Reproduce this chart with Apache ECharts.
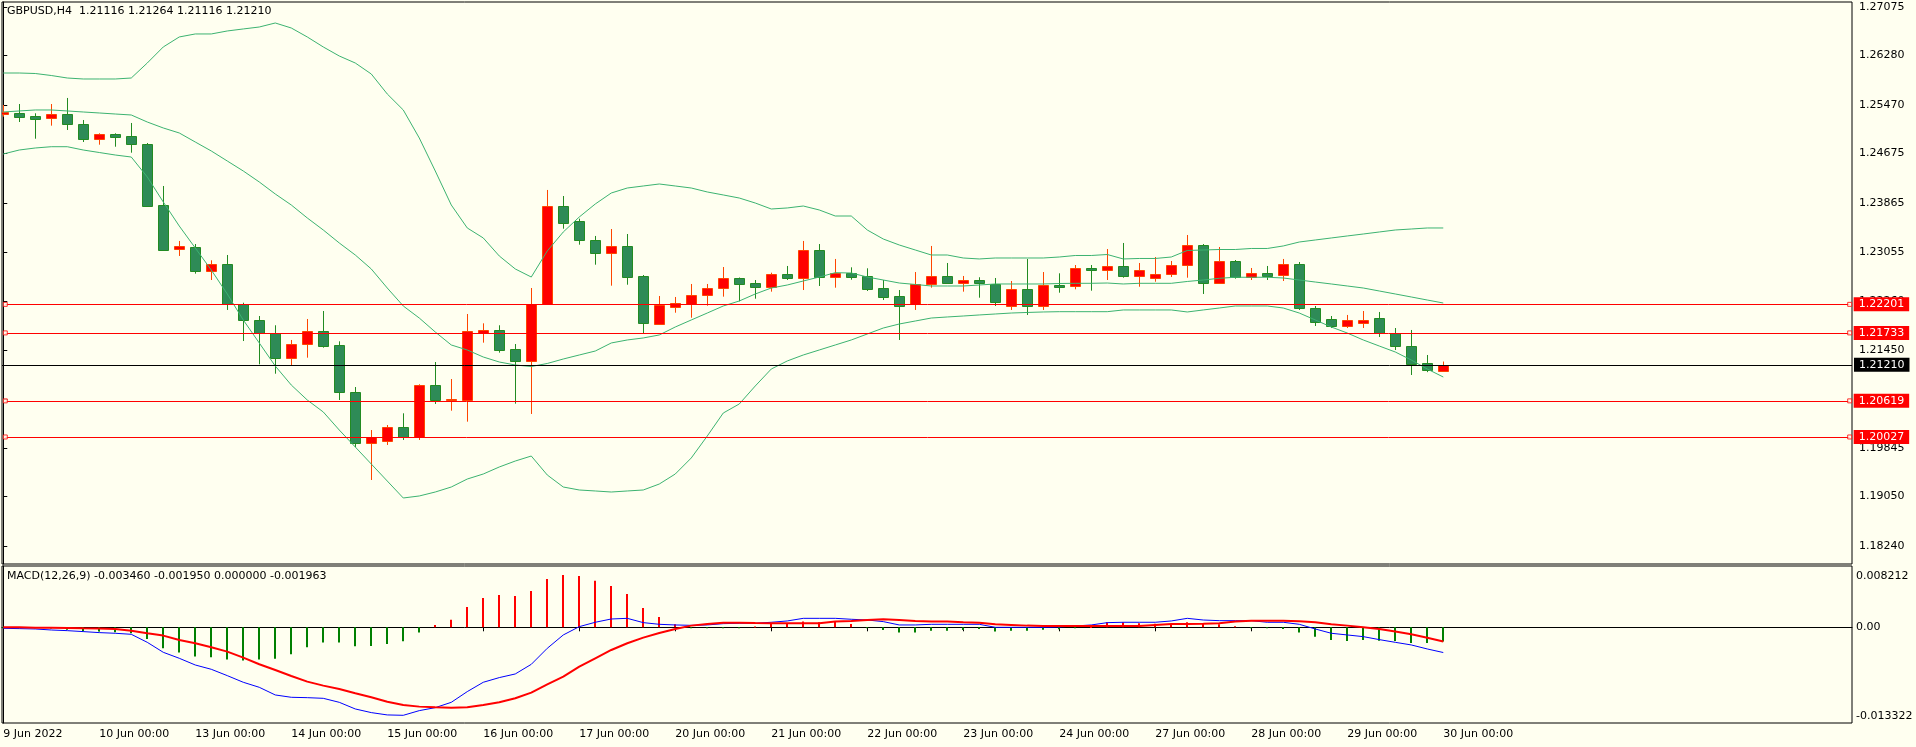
<!DOCTYPE html>
<html><head><meta charset="utf-8">
<script src="https://cdn.jsdelivr.net/npm/echarts/dist/echarts.min.js"></script>
<style>html,body{margin:0;padding:0;background:#fffff0;}#c{width:1916px;height:747px;}</style>
</head><body><div id="c"></div>
<script>
const dateLabels = ['9 Jun 2022','10 Jun 00:00','13 Jun 00:00','14 Jun 00:00','15 Jun 00:00','16 Jun 00:00','17 Jun 00:00','20 Jun 00:00','21 Jun 00:00','22 Jun 00:00','23 Jun 00:00','24 Jun 00:00','27 Jun 00:00','28 Jun 00:00','29 Jun 00:00','30 Jun 00:00'];
const priceTicks = [1.27075,1.26280,1.25470,1.24675,1.23865,1.23055,1.22260,1.21450,1.20640,1.19845,1.19050,1.18240];
const macdTickText = ['0.008212','0.00','-0.013322'];
const macdTickPos = [0.007078,0,-0.012125];
const titleText = 'GBPUSD,H4  1.21116 1.21264 1.21116 1.21210';
const macdTitle = 'MACD(12,26,9) -0.003460 -0.001950 0.000000 -0.001963';
const levelLines = [1.22201,1.21733,1.20619,1.20027];
const currentPrice = 1.21210;

const candleOpen = [1.25321,1.25333,1.25289,1.25251,1.25316,1.25157,1.24916,1.24994,1.24956,1.24825,
1.23825,1.23104,1.23136,1.22753,1.22858,1.22202,1.21945,1.21727,1.21317,1.21546,
1.21759,1.21530,1.20759,1.19928,1.19961,1.20186,1.20022,1.20874,1.20628,1.20638,
1.21727,1.21776,1.21464,1.21277,1.22212,1.23808,1.23562,1.23251,1.23048,1.23153,
1.22661,1.21874,1.22153,1.22212,1.22349,1.22464,1.22628,1.22546,1.22486,1.22694,
1.22638,1.23087,1.22654,1.22720,1.22666,1.22464,1.22333,1.22207,1.22530,1.22661,
1.22556,1.22595,1.22540,1.22174,1.22448,1.22174,1.22518,1.22497,1.22797,1.22759,
1.22825,1.22671,1.22628,1.22694,1.22841,1.23169,1.22546,1.22907,1.22649,1.22715,
1.22682,1.22863,1.22141,1.21961,1.21846,1.21895,1.21977,1.21731,1.21518,1.21240,1.21116];
const candleClose = [1.25346,1.25277,1.25244,1.25316,1.25153,1.24916,1.24989,1.24949,1.24825,1.23818,
1.23097,1.23153,1.22753,1.22858,1.22207,1.21940,1.21727,1.21317,1.21546,1.21759,
1.21523,1.20769,1.19928,1.20027,1.20186,1.20022,1.20874,1.20633,1.20650,1.21759,
1.21776,1.21458,1.21277,1.22202,1.23808,1.23530,1.23251,1.23048,1.23153,1.22654,
1.21891,1.22190,1.22218,1.22349,1.22464,1.22628,1.22540,1.22481,1.22694,1.22638,
1.23087,1.22654,1.22710,1.22654,1.22458,1.22327,1.22174,1.22530,1.22661,1.22556,
1.22595,1.22556,1.22240,1.22448,1.22174,1.22518,1.22490,1.22792,1.22759,1.22825,
1.22671,1.22759,1.22694,1.22841,1.23169,1.22546,1.22907,1.22645,1.22710,1.22671,
1.22863,1.22141,1.21912,1.21846,1.21945,1.21945,1.21731,1.21518,1.21223,1.21130,1.21210];
const candleHigh = [1.25469,1.25485,1.25333,1.25485,1.25584,1.25223,1.25005,1.25005,1.25174,1.24846,
1.24141,1.23240,1.23190,1.22923,1.23010,1.22228,1.22010,1.21858,1.21617,1.21961,
1.22092,1.21595,1.20846,1.20141,1.20223,1.20415,1.20891,1.21256,1.20977,1.22043,
1.21890,1.21858,1.21551,1.22469,1.24076,1.23977,1.23605,1.23322,1.23436,1.23354,
1.22682,1.22338,1.22322,1.22535,1.22535,1.22813,1.22641,1.22600,1.22720,1.22830,
1.23240,1.23190,1.22945,1.22808,1.22792,1.22600,1.22436,1.22731,1.23158,1.22879,
1.22666,1.22645,1.22633,1.22584,1.22945,1.22731,1.22710,1.22846,1.22846,1.23108,
1.23207,1.22879,1.22977,1.22912,1.23338,1.23190,1.23141,1.22928,1.22797,1.22830,
1.22945,1.22895,1.22174,1.22010,1.22027,1.22092,1.22076,1.21813,1.21781,1.21371,1.21264];
const candleLow = [1.25277,1.25190,1.24916,1.25130,1.25059,1.24862,1.24818,1.24785,1.24687,1.23805,
1.23081,1.22994,1.22704,1.22600,1.22109,1.21600,1.21218,1.21064,1.21195,1.21327,
1.21491,1.20633,1.19863,1.19322,1.19896,1.19978,1.19978,1.20568,1.20458,1.20278,
1.21573,1.21409,1.20573,1.20404,1.22199,1.23441,1.23179,1.22851,1.22507,1.22523,
1.21727,1.21863,1.22064,1.21982,1.22179,1.22327,1.22251,1.22294,1.22409,1.22600,
1.22436,1.22502,1.22474,1.22605,1.22420,1.22272,1.21617,1.22109,1.22474,1.22543,
1.22409,1.22310,1.22174,1.22109,1.22027,1.22109,1.22392,1.22448,1.22425,1.22600,
1.22638,1.22490,1.22572,1.22649,1.22638,1.22371,1.22535,1.22622,1.22600,1.22600,
1.22584,1.22109,1.21846,1.21813,1.21813,1.21813,1.21666,1.21453,1.21043,1.21090,1.21116];

const bbUpper = [1.25993,1.25993,1.25985,1.25952,1.25911,1.25895,1.25895,1.25895,1.25911,1.26157,
1.26420,1.26584,1.26633,1.26633,1.26682,1.26715,1.26747,1.26813,1.26731,1.26584,
1.26420,1.26272,1.26157,1.25977,1.25649,1.25387,1.24928,1.24387,1.23830,1.23453,
1.23289,1.22994,1.22781,1.22649,1.23076,1.23387,1.23633,1.23846,1.24026,1.24108,
1.24141,1.24174,1.24141,1.24108,1.24043,1.23994,1.23944,1.23862,1.23764,1.23781,
1.23813,1.23748,1.23649,1.23649,1.23420,1.23272,1.23174,1.23092,1.23010,1.23010,
1.22961,1.22945,1.22961,1.22961,1.22961,1.22961,1.22977,1.23002,1.23002,1.23018,
1.22945,1.22953,1.22953,1.22977,1.23084,1.23092,1.23100,1.23100,1.23117,1.23117,
1.23158,1.23223,1.23256,1.23289,1.23322,1.23354,1.23387,1.23420,1.23436,1.23453,1.23453];
const bbMiddle = [1.25354,1.25371,1.25387,1.25387,1.25371,1.25354,1.25338,1.25321,1.25305,1.25190,
1.25092,1.25010,1.24862,1.24715,1.24551,1.24387,1.24207,1.24010,1.23830,1.23617,
1.23420,1.23207,1.23010,1.22781,1.22469,1.22174,1.21977,1.21748,1.21535,1.21453,
1.21338,1.21256,1.21207,1.21182,1.21232,1.21305,1.21371,1.21436,1.21568,1.21617,
1.21650,1.21699,1.21830,1.21945,1.22059,1.22174,1.22256,1.22371,1.22469,1.22518,
1.22584,1.22649,1.22720,1.22715,1.22649,1.22600,1.22551,1.22527,1.22502,1.22502,
1.22502,1.22518,1.22535,1.22535,1.22535,1.22535,1.22543,1.22546,1.22546,1.22551,
1.22535,1.22546,1.22546,1.22546,1.22576,1.22600,1.22628,1.22645,1.22645,1.22645,
1.22633,1.22600,1.22567,1.22535,1.22502,1.22469,1.22420,1.22371,1.22322,1.22272,1.22223];
const bbLower = [1.24666,1.24731,1.24764,1.24785,1.24785,1.24731,1.24690,1.24649,1.24616,1.24289,
1.23879,1.23485,1.23125,1.22764,1.22371,1.21945,1.21568,1.21190,1.20879,1.20633,
1.20437,1.20141,1.19863,1.19584,1.19305,1.19027,1.19060,1.19125,1.19207,1.19338,
1.19420,1.19535,1.19633,1.19715,1.19404,1.19207,1.19158,1.19142,1.19125,1.19142,
1.19158,1.19256,1.19420,1.19683,1.20043,1.20420,1.20568,1.20863,1.21141,1.21273,
1.21371,1.21453,1.21535,1.21617,1.21715,1.21813,1.21879,1.21928,1.21977,1.21994,
1.22010,1.22027,1.22043,1.22059,1.22068,1.22076,1.22081,1.22081,1.22081,1.22081,
1.22109,1.22109,1.22109,1.22109,1.22076,1.22109,1.22141,1.22174,1.22174,1.22174,
1.22141,1.22059,1.21945,1.21830,1.21731,1.21617,1.21518,1.21420,1.21289,1.21141,1.21010];

const macdHist = [-0.00009,-0.00009,-0.00014,-0.00018,-0.00032,-0.00059,-0.00059,-0.00069,-0.00082,-0.00160,
-0.00288,-0.00347,-0.00402,-0.00411,-0.00443,-0.00457,-0.00443,-0.00430,-0.00370,-0.00274,
-0.00210,-0.00210,-0.00260,-0.00256,-0.00229,-0.00192,-0.00073,0.00032,0.00105,0.00279,
0.00402,0.00443,0.00430,0.00498,0.00663,0.00718,0.00704,0.00640,0.00567,0.00457,
0.00265,0.00142,0.00041,-0.00014,-0.00014,-0.00010,-0.00010,0.00010,0.00046,0.00046,
0.00078,0.00069,0.00078,0.00046,-0.00014,-0.00037,-0.00073,-0.00073,-0.00046,-0.00046,
-0.00037,-0.00023,-0.00059,-0.00046,-0.00046,-0.00032,-0.00027,-0.00005,0.00005,0.00069,
0.00069,0.00055,0.00050,0.00041,0.00069,0.00055,0.00041,0.00014,-0.00005,-0.00014,
-0.00023,-0.00073,-0.00128,-0.00174,-0.00187,-0.00174,-0.00183,-0.00187,-0.00215,-0.00215,-0.001963];
const macdMain = [-0.00014,-0.00018,-0.00023,-0.00037,-0.00046,-0.00059,-0.00073,-0.00082,-0.00096,-0.00206,
-0.00343,-0.00425,-0.00517,-0.00576,-0.00663,-0.00754,-0.00823,-0.00928,-0.00960,-0.00965,
-0.00974,-0.01029,-0.01120,-0.01170,-0.01202,-0.01207,-0.01143,-0.01102,-0.01029,-0.00882,
-0.00754,-0.00690,-0.00640,-0.00508,-0.00288,-0.00105,0.00009,0.00069,0.00114,0.00123,
0.00064,0.00041,0.00032,0.00027,0.00032,0.00050,0.00055,0.00055,0.00069,0.00087,
0.00123,0.00123,0.00123,0.00110,0.00100,0.00078,0.00032,0.00032,0.00041,0.00041,
0.00041,0.00041,0.00000,0.00000,0.00000,0.00000,0.00005,0.00018,0.00032,0.00064,
0.00069,0.00069,0.00069,0.00087,0.00123,0.00100,0.00091,0.00091,0.00091,0.00069,
0.00069,0.00041,-0.00023,-0.00082,-0.00105,-0.00128,-0.00169,-0.00206,-0.00242,-0.00297,-0.003460];
const macdSignal = [0.00000,0.00000,-0.00005,-0.00005,-0.00009,-0.00014,-0.00018,-0.00023,-0.00046,-0.00082,
-0.00114,-0.00174,-0.00219,-0.00274,-0.00334,-0.00416,-0.00507,-0.00585,-0.00668,-0.00745,
-0.00800,-0.00846,-0.00905,-0.00960,-0.01020,-0.01065,-0.01088,-0.01097,-0.01102,-0.01097,
-0.01065,-0.01029,-0.00974,-0.00896,-0.00782,-0.00677,-0.00540,-0.00425,-0.00311,-0.00219,
-0.00142,-0.00078,-0.00023,0.00023,0.00046,0.00064,0.00064,0.00059,0.00055,0.00055,
0.00055,0.00055,0.00078,0.00087,0.00100,0.00110,0.00100,0.00087,0.00078,0.00078,
0.00069,0.00064,0.00041,0.00032,0.00023,0.00018,0.00018,0.00018,0.00018,0.00018,
0.00018,0.00018,0.00032,0.00046,0.00046,0.00050,0.00055,0.00078,0.00091,0.00091,
0.00091,0.00082,0.00069,0.00041,0.00023,0.00000,-0.00023,-0.00059,-0.00096,-0.00142,-0.001950];

const FONT = 'DejaVu Sans';
const idx = candleOpen.map((_, i) => i);
const candleData = idx.map(i => [i, candleOpen[i], candleClose[i], candleLow[i], candleHigh[i]]);
const toXY = arr => arr.map((v, i) => [i, v]);
const tickDays = dateLabels.map((_, i) => i * 6);

const BULL_FILL = '#ff0000', BULL_LINE = '#ff4500', BEAR_FILL = '#2e8b57', BEAR_LINE = '#228b22';

function renderCandle(params, api) {
  const k = api.value(0), o = api.value(1), c = api.value(2), l = api.value(3), h = api.value(4);
  const pO = api.coord([k, o]), pC = api.coord([k, c]), pL = api.coord([k, l]), pH = api.coord([k, h]);
  const up = c >= o;
  const x = Math.round(pO[0]) + 0.5;
  const top = Math.round(Math.min(pO[1], pC[1])) + 0.5, bot = Math.round(Math.max(pO[1], pC[1])) + 0.5;
  return {type: 'group', children: [
    {type: 'line', shape: {x1: x, y1: pH[1], x2: x, y2: pL[1]}, style: {stroke: up ? BULL_LINE : BEAR_LINE, lineWidth: 1}},
    {type: 'rect', shape: {x: x - 5, y: top, width: 10, height: Math.max(bot - top, 1)},
      style: {fill: up ? BULL_FILL : BEAR_FILL, stroke: up ? BULL_LINE : BEAR_LINE, lineWidth: 1}}
  ]};
}
function renderHist(params, api) {
  const k = api.value(0), v = api.value(1);
  const p = api.coord([k, v]), z = api.coord([k, 0]);
  const x = Math.round(p[0]);
  return {type: 'rect', shape: {x: x - 1, y: Math.min(p[1], z[1]), width: 2, height: Math.max(Math.abs(p[1] - z[1]), 1)},
    style: {fill: v >= 0 ? '#ff0000' : '#008000'}};
}

const XMIN = -0.08, XMAX = 115.545;
const lineStart = 0.126, lineEnd = 115.40;

const markData = levelLines.map(v => [{coord: [lineStart, v]}, {coord: [lineEnd, v],
  label: {backgroundColor: '#ff0000'}}]);
markData.push([{coord: [XMIN, currentPrice]}, {coord: [XMAX, currentPrice],
  lineStyle: {color: '#000000'}, label: {backgroundColor: '#000000', distance: 2}}]);

const squares = [];
levelLines.forEach(v => { squares.push([lineStart, v]); squares.push([lineEnd, v]); });

const chart = echarts.init(document.getElementById('c'), null, {renderer: 'canvas'});
chart.setOption({
  backgroundColor: '#fffff0',
  animation: false,
  textStyle: {fontFamily: FONT},
  title: [
    {text: titleText, left: 7, top: 6, padding: 0, textStyle: {fontSize: 11, fontWeight: 'normal', fontFamily: FONT, color: '#000000'}},
    {text: macdTitle, left: 7, top: 571, padding: 0, textStyle: {fontSize: 11, fontWeight: 'normal', fontFamily: FONT, color: '#000000'}}
  ],
  grid: [
    {left: 2, top: 2, width: 1850, height: 562, show: true, borderColor: '#000000', borderWidth: 1, backgroundColor: 'transparent'},
    {left: 2, top: 566, width: 1850, height: 157, show: true, borderColor: '#000000', borderWidth: 1, backgroundColor: 'transparent'}
  ],
  xAxis: [
    {type: 'value', gridIndex: 0, min: XMIN, max: XMAX, show: false, splitLine: {show: false}},
    {type: 'value', gridIndex: 1, min: XMIN, max: XMAX, splitLine: {show: false},
      axisLine: {show: true, lineStyle: {color: '#000000'}},
      axisTick: {show: true, customValues: tickDays, length: 4, lineStyle: {color: '#000000'}},
      axisLabel: {show: true, customValues: tickDays, align: 'left', margin: 6, fontSize: 11, fontFamily: FONT, color: '#000000',
        formatter: v => dateLabels[Math.round(v / 6)]}}
  ],
  yAxis: [
    {type: 'value', gridIndex: 0, position: 'right', min: 1.17945, max: 1.27157, splitLine: {show: false},
      axisLine: {show: true, lineStyle: {color: '#000000'}},
      axisTick: {show: true, customValues: priceTicks, length: 4, lineStyle: {color: '#000000'}},
      axisLabel: {show: true, customValues: priceTicks, margin: 7, fontSize: 11, fontFamily: FONT, color: '#000000',
        formatter: v => v.toFixed(5)}},
    {type: 'value', gridIndex: 1, position: 'right', min: -0.013126, max: 0.008408, splitLine: {show: false},
      axisLine: {show: true, lineStyle: {color: '#000000'}},
      axisTick: {show: true, customValues: [0], length: 3, lineStyle: {color: '#000000'}},
      axisLabel: {show: true, customValues: macdTickPos, margin: 4, fontSize: 11, fontFamily: FONT, color: '#000000',
        formatter: v => { let b = 0; macdTickPos.forEach((p, i) => { if (Math.abs(p - v) < Math.abs(macdTickPos[b] - v)) b = i; }); return macdTickText[b]; }}}
  ],
  series: [
    {type: 'custom', name: 'GBPUSD', xAxisIndex: 0, yAxisIndex: 0, renderItem: renderCandle, data: candleData,
      encode: {x: 0, y: [1, 2, 3, 4]}, clip: true, z: 2},
    {type: 'line', name: 'BB upper', xAxisIndex: 0, yAxisIndex: 0, data: toXY(bbUpper), symbol: 'none', lineStyle: {color: '#3cb371', width: 1}, z: 3},
    {type: 'line', name: 'BB middle', xAxisIndex: 0, yAxisIndex: 0, data: toXY(bbMiddle), symbol: 'none', lineStyle: {color: '#3cb371', width: 1}, z: 3},
    {type: 'line', name: 'BB lower', xAxisIndex: 0, yAxisIndex: 0, data: toXY(bbLower), symbol: 'none', lineStyle: {color: '#3cb371', width: 1}, z: 3},
    {type: 'line', name: 'levels', xAxisIndex: 0, yAxisIndex: 0, data: [], z: 4,
      markLine: {silent: true, symbol: ['none', 'none'], animation: false,
        lineStyle: {color: '#ff0000', width: 1, type: 'solid'},
        label: {show: true, position: 'end', distance: 4, color: '#ffffff', fontSize: 11, fontFamily: FONT,
          padding: [1, 5, 0, 5], lineHeight: 13, formatter: p => p.data.coord ? (+p.data.coord[1]).toFixed(5) : (+p.value).toFixed(5)},
        emphasis: {disabled: true},
        data: markData}},
    {type: 'scatter', name: 'anchors', xAxisIndex: 0, yAxisIndex: 0, data: squares, symbol: 'rect', symbolSize: 4, z: 5,
      itemStyle: {color: '#fffff0', borderColor: '#ff0000', borderWidth: 1}},
    {type: 'custom', name: 'MACD hist', xAxisIndex: 1, yAxisIndex: 1, renderItem: renderHist, data: toXY(macdHist), encode: {x: 0, y: 1}, z: 2},
    {type: 'line', name: 'MACD', xAxisIndex: 1, yAxisIndex: 1, data: toXY(macdMain), symbol: 'none', lineStyle: {color: '#0000ff', width: 1}, z: 3},
    {type: 'line', name: 'Signal', xAxisIndex: 1, yAxisIndex: 1, data: toXY(macdSignal), symbol: 'none', lineStyle: {color: '#ff0000', width: 2}, z: 4}
  ]
});
</script></body></html>
